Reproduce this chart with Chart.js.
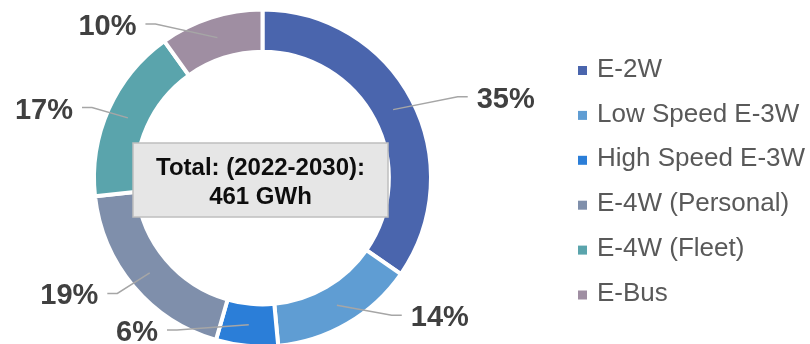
<!DOCTYPE html>
<html>
<head>
<meta charset="utf-8">
<script src="https://cdn.jsdelivr.net/npm/chart.js@4.4.1/dist/chart.umd.min.js"></script>
<style>
  html, body { margin: 0; padding: 0; background: #fff; overflow: hidden; }
  #wrap { width: 810px; height: 350px; position: relative; }
</style>
</head>
<body>
<div id="wrap"><canvas id="shareChart"></canvas></div>
<script>
// Data
const segments = ["E-2W", "Low Speed E-3W", "High Speed E-3W", "E-4W (Personal)", "E-4W (Fleet)", "E-Bus"];
const shares = [35, 14, 6, 19, 17, 10];
const segmentColors = ["#4a65ad", "#5f9dd3", "#2b7ed8", "#7f8fab", "#5aa4ac", "#9f8ea2"];
const totalLines = ["Total: (2022-2030):", "461 GWh"];

// Leader line tweaks (angle shift in degrees, distance past the ring in px)
const leaderShift = [5, -13, 24, 1.6, -1.6, -17];
const leaderReach = [43, 20, 6, 17, 16, 19];

const FONT = "'Liberation Sans', Arial, sans-serif";

const leaderLabels = {
  id: "leaderLabels",
  afterDatasetsDraw(chart) {
    const ctx = chart.ctx;
    const arcs = chart.getDatasetMeta(0).data;
    ctx.save();
    arcs.forEach((arc, i) => {
      const { x, y, startAngle, endAngle, innerRadius, outerRadius } = arc.getProps(
        ["x", "y", "startAngle", "endAngle", "innerRadius", "outerRadius"], true);
      const mid = (startAngle + endAngle) / 2;
      const rMid = (innerRadius + outerRadius) / 2;
      const sx = x + Math.cos(mid) * rMid;
      const sy = y + Math.sin(mid) * rMid;
      const a = mid + leaderShift[i] * Math.PI / 180;
      const rE = outerRadius + leaderReach[i];
      const ex = x + Math.cos(a) * rE;
      const ey = y + Math.sin(a) * rE;
      const right = ex > x;
      const tx = ex + (right ? 10 : -10);

      ctx.strokeStyle = "#a6a6a6";
      ctx.lineWidth = 1.5;
      ctx.beginPath();
      ctx.moveTo(sx, sy);
      ctx.lineTo(ex, ey);
      ctx.lineTo(tx, ey);
      ctx.stroke();

      ctx.fillStyle = "#404040";
      ctx.font = "bold 29px " + FONT;
      ctx.textBaseline = "middle";
      ctx.textAlign = right ? "left" : "right";
      ctx.fillText(shares[i] + "%", tx + (right ? 9 : -9), ey + 3);
    });
    ctx.restore();
  },
};

const centerBox = {
  id: "centerBox",
  afterDraw(chart) {
    const ctx = chart.ctx;
    const arc = chart.getDatasetMeta(0).data[0];
    const cx = arc.x, cy = arc.y;
    ctx.save();
    ctx.fillStyle = "#e6e6e6";
    ctx.strokeStyle = "#bfbfbf";
    ctx.lineWidth = 1.5;
    ctx.fillRect(cx - 129.5, cy - 35, 255, 74);
    ctx.strokeRect(cx - 129.5, cy - 35, 255, 74);
    ctx.fillStyle = "#0d0d0d";
    ctx.font = "bold 24px " + FONT;
    ctx.textAlign = "center";
    ctx.textBaseline = "middle";
    ctx.fillText(totalLines[0], cx - 2, cy - 10);
    ctx.fillText(totalLines[1], cx - 2, cy + 19.5);
    ctx.restore();
  },
};

const sideLegend = {
  id: "sideLegend",
  afterDraw(chart) {
    const ctx = chart.ctx;
    const ds = chart.data.datasets[0];
    ctx.save();
    ctx.font = "26px " + FONT;
    ctx.textBaseline = "middle";
    ctx.textAlign = "left";
    chart.data.labels.forEach((label, i) => {
      const yc = 70.5 + i * 44.9;
      ctx.fillStyle = ds.backgroundColor[i];
      ctx.fillRect(578, yc - 4.5, 9, 9);
      ctx.fillStyle = "#595959";
      ctx.fillText(label, 597, yc - 1);
    });
    ctx.restore();
  },
};

new Chart(document.getElementById("shareChart"), {
  type: "doughnut",
  data: {
    labels: segments,
    datasets: [
      {
        data: shares,
        backgroundColor: segmentColors,
        borderColor: "#ffffff",
        borderWidth: 4,
      },
    ],
  },
  options: {
    responsive: true,
    maintainAspectRatio: false,
    animation: false,
    events: [],
    cutout: "75%",
    layout: { padding: { left: 92, right: 377, top: 7.5, bottom: 1.5 } },
    plugins: {
      legend: { display: false },
      tooltip: { enabled: false },
    },
  },
  plugins: [leaderLabels, centerBox, sideLegend],
});
</script>
</body>
</html>
